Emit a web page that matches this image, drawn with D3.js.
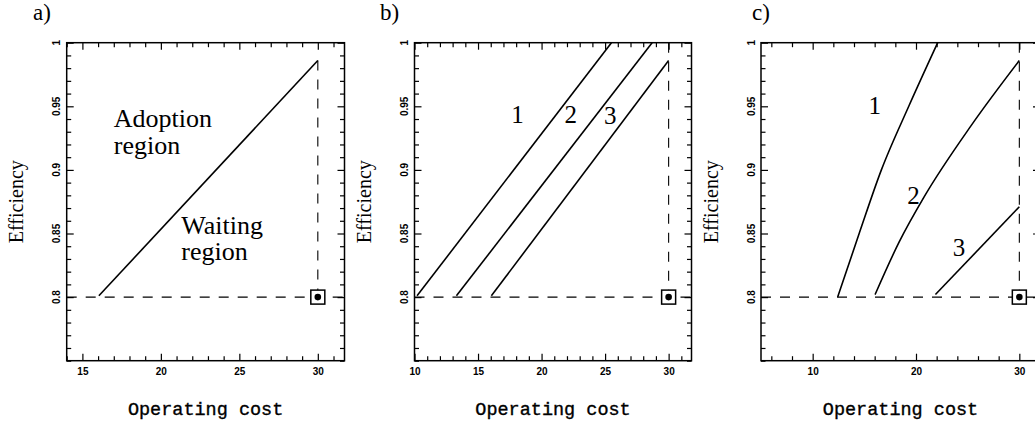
<!DOCTYPE html>
<html>
<head>
<meta charset="utf-8">
<script src="https://cdn.jsdelivr.net/npm/d3@7"></script>
<style>
  html, body { margin: 0; padding: 0; background: #fff; }
  svg { display: block; }
</style>
</head>
<body>
<svg id="chart" width="1035" height="428"></svg>
<script>
// ---------------- DATA ----------------
const yDomain = [0.75, 1.0];
const yTickLabels = [0.8, 0.85, 0.9, 0.95, 1];
const yMinorTicks = d3.range(75, 101).map(v => v / 100);

const xDomainA = [14, 31.7];
const xDomainB = [10, 31.8];
const xDomainC = [5, 32];

const xTicksA = [15, 20, 25, 30];
const xTicksB = [10, 15, 20, 25, 30];
const xTicksC = [10, 20, 30];
const xMinorA = d3.range(14, 32, 1);
const xMinorB = d3.range(10, 32, 1);
const xMinorC = d3.range(6, 33, 2);

// threshold curves [operating cost, efficiency]
const curveA = [[16.05, 0.801], [30, 0.986]];

const curveB1 = [[10.2, 0.801], [25.5, 1.0]];
const curveB2 = [[13.3, 0.801], [28.7, 1.0]];
const curveB3 = [[16.05, 0.801], [30, 0.986]];

const curveC1 = [[12.42, 0.8], [14.5, 0.85], [16.65, 0.9], [19.3, 0.95], [22.1, 1.0]];
const curveC2 = [[16.04, 0.802], [18.35, 0.843], [20.8, 0.879], [25.35, 0.935], [30, 0.986]];
const curveC3 = [[21.88, 0.802], [30, 0.871]];

// current technology point and the guide lines
const currentPoint = [30, 0.8];
const guideTopA = 0.986;
const guideTopB = 1.0;
const guideTopC = 1.0;

const curveLabelsB = [["1", 18.1, 0.937], ["2", 22.3, 0.937], ["3", 25.4, 0.936]];
const curveLabelsC = [["1", 16.0, 0.944], ["2", 19.75, 0.873], ["3", 24.15, 0.832]];
const regionTextA = [[["Adoption", "region"], 17, 0.9335], [["Waiting", "region"], 21.3, 0.85]];

// ---------------- LAYOUT ----------------
const svg = d3.select("#chart");
const plotTop = 42.7, plotBottom = 360.7;
const serif = "'Liberation Serif', 'Times New Roman', serif";
const sans = "'Liberation Sans', Arial, sans-serif";
const mono = "'Liberation Mono', 'Courier New', monospace";

const panels = [
  { id: "a", label: "a)", labelX: 33, left: 66.7, right: 344.5, xDomain: xDomainA,
    ticks: xTicksA, minor: xMinorA, curves: [curveA], guideTop: guideTopA,
    numLabels: [], regionText: regionTextA },
  { id: "b", label: "b)", labelX: 380, left: 414.5, right: 691.5, xDomain: xDomainB,
    ticks: xTicksB, minor: xMinorB, curves: [curveB1, curveB2, curveB3], guideTop: guideTopB,
    numLabels: curveLabelsB, regionText: [] },
  { id: "c", label: "c)", labelX: 752, left: 761, right: 1040, xDomain: xDomainC,
    ticks: xTicksC, minor: xMinorC, curves: [curveC1, curveC2, curveC3], guideTop: guideTopC,
    numLabels: curveLabelsC, regionText: [] }
];

const y = d3.scaleLinear().domain(yDomain).range([plotBottom, plotTop]);

panels.forEach(p => {
  const x = d3.scaleLinear().domain(p.xDomain).range([p.left, p.right]);
  const g = svg.append("g").attr("class", "panel-" + p.id);

  const clipId = "clip-" + p.id;
  svg.append("clipPath").attr("id", clipId)
    .append("rect").attr("x", p.left).attr("y", plotTop)
    .attr("width", p.right - p.left).attr("height", plotBottom - plotTop);

  const isMajorX = d => p.ticks.some(t => Math.abs(t - d) < 1e-9);
  const isMajorY = d => yTickLabels.some(t => Math.abs(t - d) < 1e-9);
  const minorX = p.minor.filter(d => !isMajorX(d));
  const minorY = yMinorTicks.filter(d => !isMajorY(d));

  const axB = g.append("g").attr("transform", `translate(0,${plotBottom})`)
    .call(d3.axisBottom(x).tickValues(minorX).tickSize(-4.5).tickFormat(""));
  const axB2 = g.append("g").attr("transform", `translate(0,${plotBottom})`)
    .call(d3.axisBottom(x).tickValues(p.ticks).tickSize(-7).tickPadding(7).tickFormat(d3.format("d")));
  const axT = g.append("g").attr("transform", `translate(0,${plotTop})`)
    .call(d3.axisTop(x).tickValues(minorX).tickSize(-4.5).tickFormat(""));
  const axT2 = g.append("g").attr("transform", `translate(0,${plotTop})`)
    .call(d3.axisTop(x).tickValues(p.ticks).tickSize(-7).tickFormat(""));
  const axL = g.append("g").attr("transform", `translate(${p.left},0)`)
    .call(d3.axisLeft(y).tickValues(minorY).tickSize(-4.5).tickFormat(""));
  const axL2 = g.append("g").attr("transform", `translate(${p.left},0)`)
    .call(d3.axisLeft(y).tickValues(yTickLabels).tickSize(-7).tickFormat(""));
  const axR = g.append("g").attr("transform", `translate(${p.right},0)`)
    .call(d3.axisRight(y).tickValues(minorY).tickSize(-4.5).tickFormat(""));
  const axR2 = g.append("g").attr("transform", `translate(${p.right},0)`)
    .call(d3.axisRight(y).tickValues(yTickLabels).tickSize(-7).tickFormat(""));

  [axB, axB2, axT, axT2, axL, axL2, axR, axR2].forEach(a => {
    a.select(".domain").remove();
    a.selectAll("line").attr("stroke", "#000").attr("stroke-width", 1.2);
  });
  axB2.selectAll("text")
    .attr("font-family", sans).attr("font-size", 10).attr("font-weight", "bold")
    .attr("fill", "#000");

  g.selectAll("text.ylab").data(yTickLabels).join("text")
    .attr("class", "ylab")
    .attr("transform", d => `translate(${p.left - 6.5},${y(d)}) rotate(-90)`)
    .attr("text-anchor", "middle")
    .attr("font-family", sans).attr("font-size", 10).attr("font-weight", "bold")
    .attr("fill", "#000")
    .text(d => d3.format("")(d));

  g.append("rect")
    .attr("x", p.left).attr("y", plotTop)
    .attr("width", p.right - p.left).attr("height", plotBottom - plotTop)
    .attr("fill", "none").attr("stroke", "#000").attr("stroke-width", 1.5);

  const plot = g.append("g").attr("clip-path", `url(#${clipId})`);

  plot.append("line")
    .attr("x1", x(p.xDomain[0])).attr("x2", x(p.xDomain[1]))
    .attr("y1", y(currentPoint[1])).attr("y2", y(currentPoint[1]))
    .attr("stroke", "#000").attr("stroke-width", 1.1).attr("stroke-dasharray", "10,9");
  plot.append("line")
    .attr("x1", x(currentPoint[0])).attr("x2", x(currentPoint[0]))
    .attr("y1", y(p.guideTop)).attr("y2", y(currentPoint[1]) - 7)
    .attr("stroke", "#000").attr("stroke-width", 1.1).attr("stroke-dasharray", "10,9");

  const line = d3.line().x(d => x(d[0])).y(d => y(d[1])).curve(d3.curveMonotoneX);
  plot.selectAll("path.curve").data(p.curves).join("path")
    .attr("class", "curve")
    .attr("d", line)
    .attr("fill", "none").attr("stroke", "#000").attr("stroke-width", 1.6);

  const cx = x(currentPoint[0]), cy = y(currentPoint[1]);
  g.append("rect")
    .attr("x", cx - 7).attr("y", cy - 7).attr("width", 14).attr("height", 14)
    .attr("fill", "#fff").attr("stroke", "#000").attr("stroke-width", 1.5);
  g.append("circle").attr("cx", cx).attr("cy", cy).attr("r", 3.3).attr("fill", "#000");

  g.selectAll("text.num").data(p.numLabels).join("text")
    .attr("class", "num")
    .attr("x", d => x(d[1])).attr("y", d => y(d[2]))
    .attr("text-anchor", "middle")
    .attr("font-family", serif).attr("font-size", 25).attr("fill", "#000")
    .text(d => d[0]);

  const rt = g.selectAll("text.region").data(p.regionText).join("text")
    .attr("class", "region")
    .attr("x", d => x(d[1])).attr("y", d => y(d[2]))
    .attr("font-family", serif).attr("font-size", 26).attr("fill", "#000");
  rt.selectAll("tspan").data(d => d[0].map(s => [s, x(d[1])])).join("tspan")
    .attr("x", d => d[1])
    .attr("dy", (d, i) => i === 0 ? 0 : 26.3)
    .text(d => d[0]);

  g.append("text")
    .attr("x", (p.left + p.right) / 2).attr("y", 415)
    .attr("text-anchor", "middle")
    .attr("font-family", mono).attr("font-size", 18.5).attr("fill", "#000")
    .attr("stroke", "#000").attr("stroke-width", 0.35)
    .text("Operating cost");
  g.append("text")
    .attr("transform", `translate(${p.left - 43.5},${(plotTop + plotBottom) / 2}) rotate(-90)`)
    .attr("text-anchor", "middle")
    .attr("font-family", serif).attr("font-size", 20).attr("fill", "#000")
    .text("Efficiency");

  g.append("text")
    .attr("x", p.labelX).attr("y", 20)
    .attr("font-family", serif).attr("font-size", 23).attr("fill", "#000")
    .text(p.label);
});
</script>
</body>
</html>
